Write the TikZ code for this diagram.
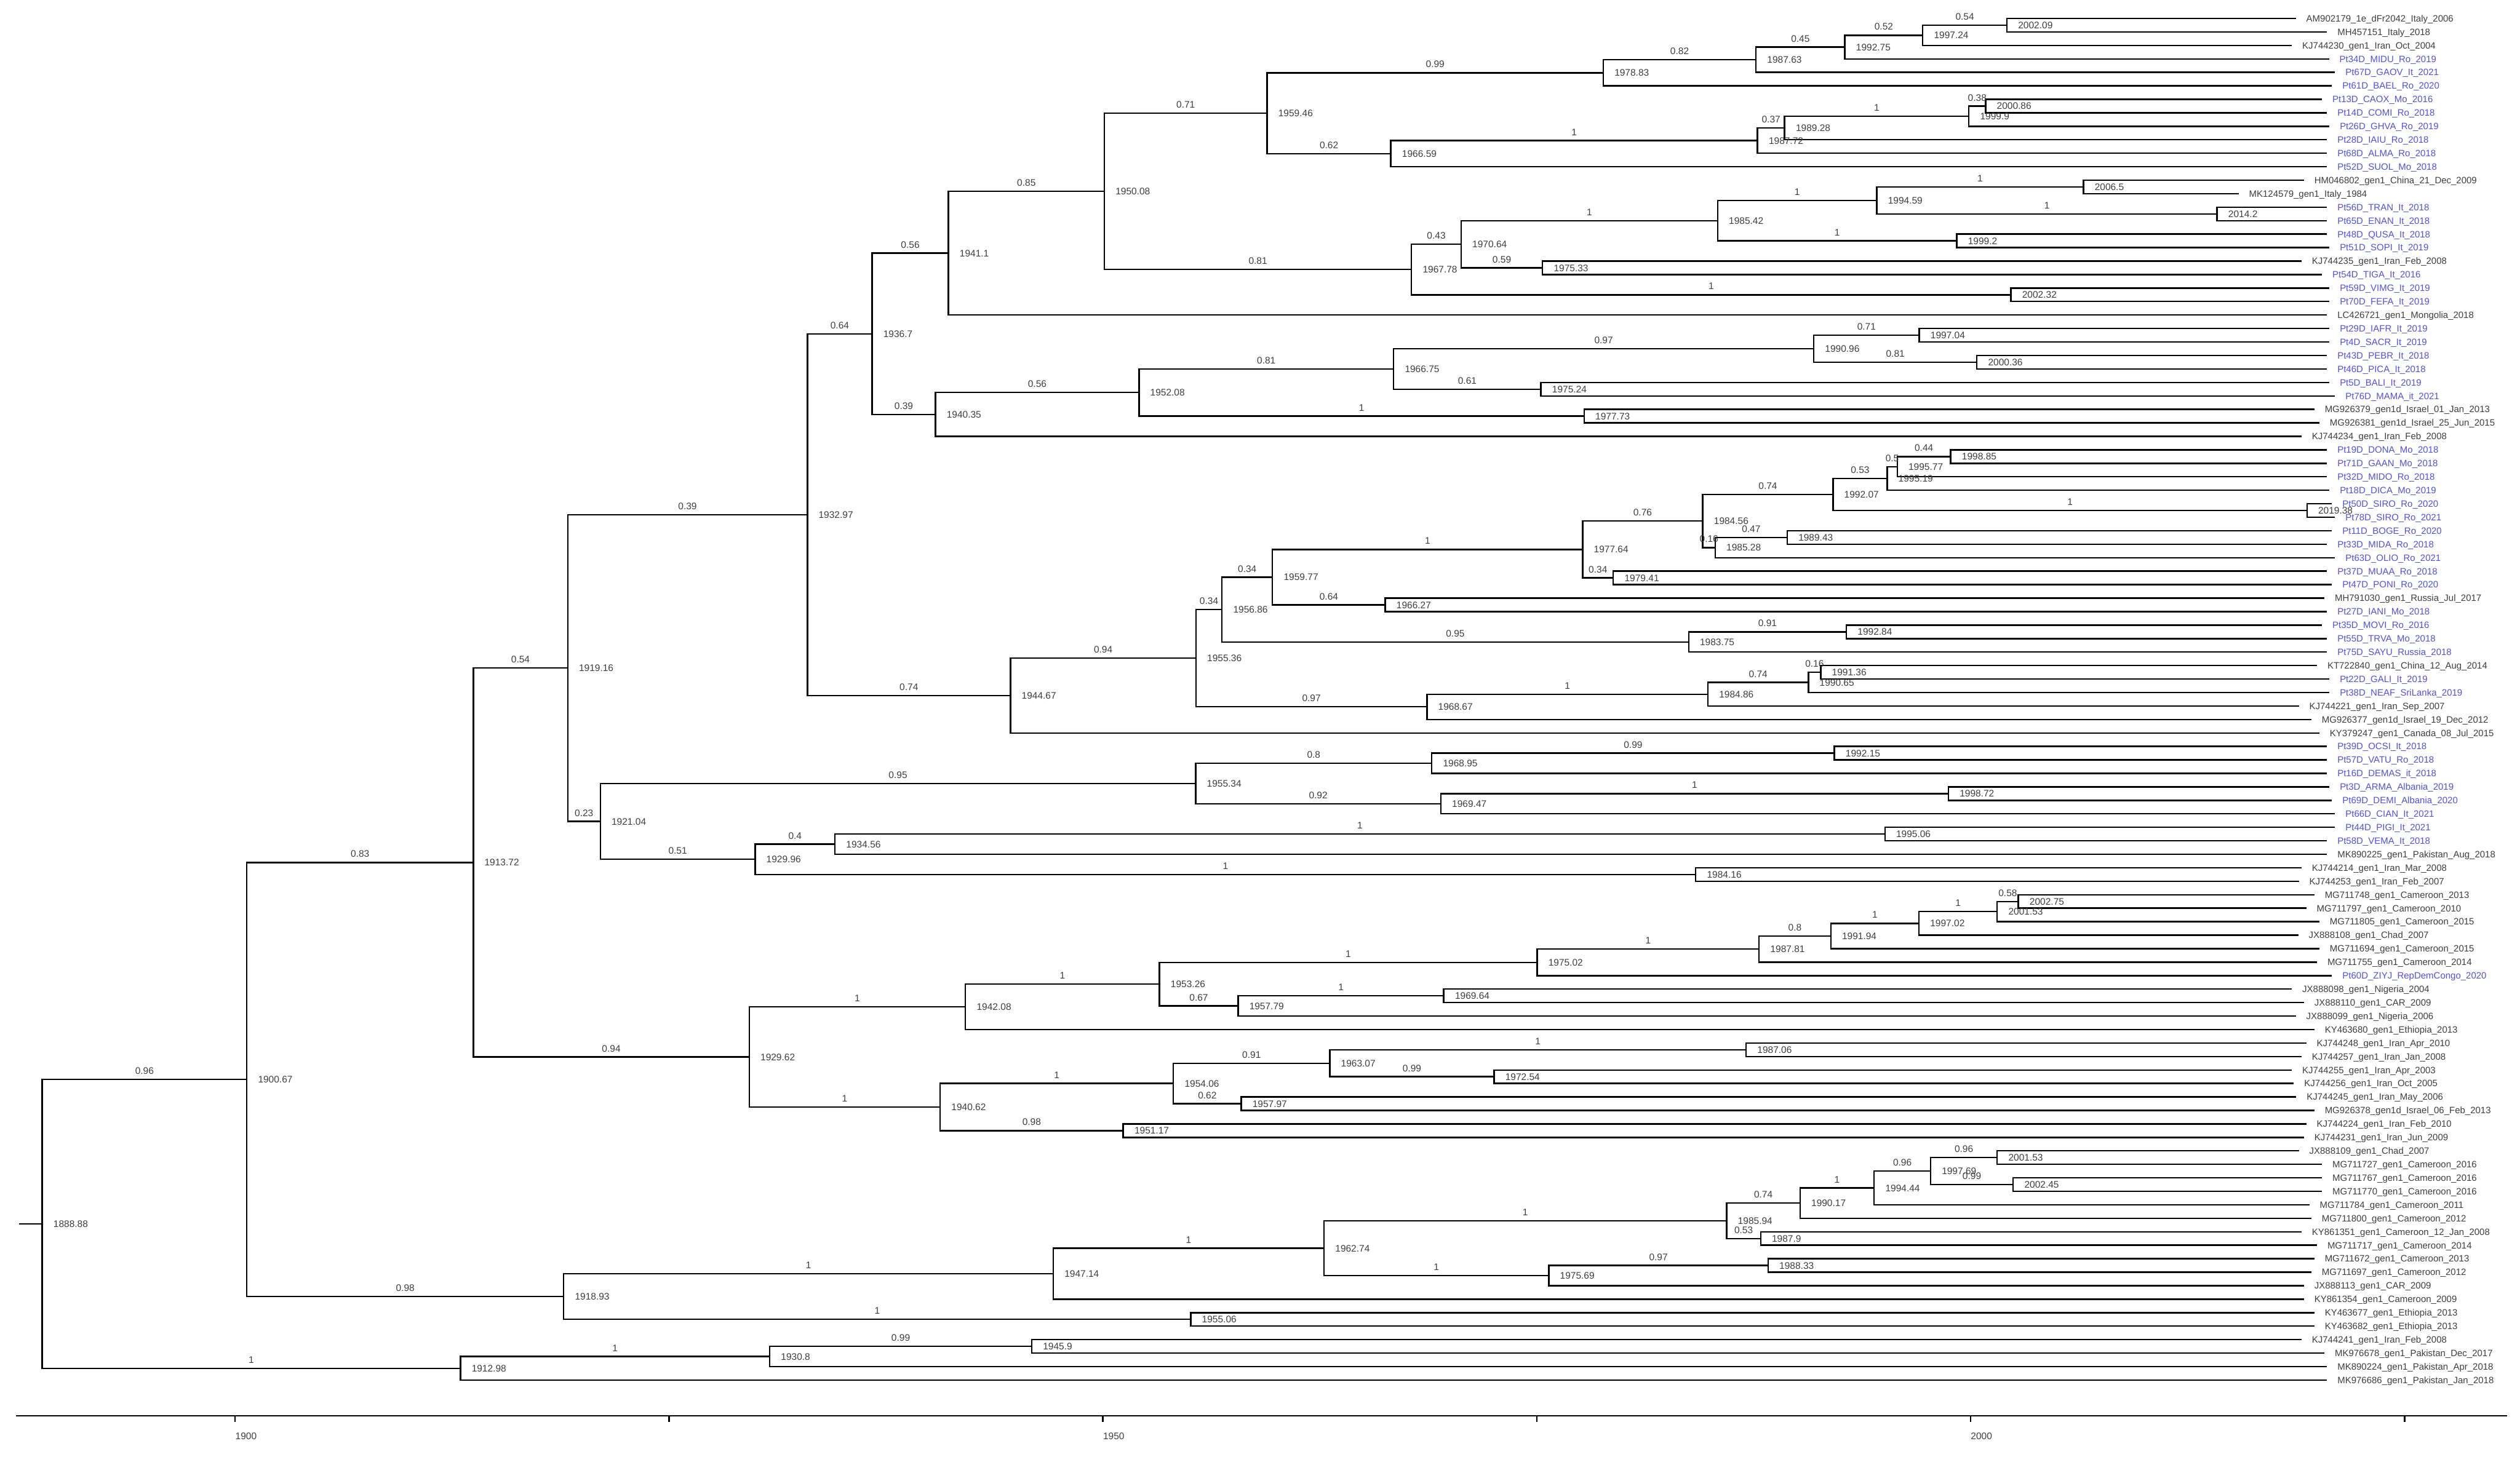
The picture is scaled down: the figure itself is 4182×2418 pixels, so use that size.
\documentclass[tikz,border=0pt]{standalone}
\usepackage{fontspec}
\setmainfont{Liberation Sans}
\usepackage{tikz}
\usetikzlibrary{calc}
\usepackage[dvipsnames]{xcolor}

\definecolor{ptblue}{RGB}{80,80,232}
\definecolor{labgray}{RGB}{62,62,62}

% x of a date, in figure pixels
\newcommand\yrx[1]{390.3+(#1-1900)*28.8}

% tip: [style]{name}{row}{offset}{label}
\newcommand\tip[5][]{%
  \coordinate (#2) at ({3803.3+(#4)/3},{30.6+(#3-1)*22.38});
  \node[leaf,#1] (#2lab) at ([xshift=0.167cm]#2) {#5};}

% clade: {name}{date}{child a}{support a}{child b}{support b}
\newcommand\clade[6]{%
  \path let \p1=($(#3)!0.5!(#5)$) in coordinate (#1) at ({(\yrx{#2})*0.01cm},\y1);
  \draw[twig] (#1) |- node[support] (#3sup) {#4} (#3);
  \draw[twig] (#1) |- node[support] (#5sup) {#6} (#5);
  \node[age] (#1lab) at (#1) {#2};}

\begin{document}
\begin{tikzpicture}[
    x=0.01cm, y=-0.01cm,   % one unit is one pixel, rows run downwards
    twig/.style={line width=0.7pt, black},
    leaf/.style={anchor=west, inner sep=0pt, text height=3.1pt, text depth=0pt,
                 text=labgray, font=\fontsize{4.35}{5}\selectfont},
    ptlabel/.style={text=ptblue},   % our own sequences
    age/.style={anchor=west, xshift=0.18cm, inner sep=0pt, text height=3.2pt,
                text depth=0pt, text=labgray, font=\fontsize{4.5}{5}\selectfont},
    support/.style={pos=0.75, above=2.1pt, inner sep=0pt, text height=3.2pt,
                    text depth=0pt, text=labgray, font=\fontsize{4.5}{5}\selectfont}
]
\useasboundingbox (0,0) rectangle (4182,2418);

% tips
\tip{t1}{1}{20}{AM902179\_1e\_dFr2042\_Italy\_2006}
\tip{t2}{2}{175}{MH457151\_Italy\_2018}
\tip{t3}{3}{0}{KJ744230\_gen1\_Iran\_Oct\_2004}
\tip[ptlabel]{t4}{4}{185}{Pt34D\_MIDU\_Ro\_2019}
\tip[ptlabel]{t5}{5}{215}{Pt67D\_GAOV\_It\_2021}
\tip[ptlabel]{t6}{6}{200}{Pt61D\_BAEL\_Ro\_2020}
\tip[ptlabel]{t7}{7}{150}{Pt13D\_CAOX\_Mo\_2016}
\tip[ptlabel]{t8}{8}{175}{Pt14D\_COMI\_Ro\_2018}
\tip[ptlabel]{t9}{9}{187}{Pt26D\_GHVA\_Ro\_2019}
\tip[ptlabel]{t10}{10}{175}{Pt28D\_IAIU\_Ro\_2018}
\tip[ptlabel]{t11}{11}{175}{Pt68D\_ALMA\_Ro\_2018}
\tip[ptlabel]{t12}{12}{175}{Pt52D\_SUOL\_Mo\_2018}
\tip{t13}{13}{60}{HM046802\_gen1\_China\_21\_Dec\_2009}
\tip{t14}{14}{-265}{MK124579\_gen1\_Italy\_1984}
\tip[ptlabel]{t15}{15}{175}{Pt56D\_TRAN\_It\_2018}
\tip[ptlabel]{t16}{16}{175}{Pt65D\_ENAN\_It\_2018}
\tip[ptlabel]{t17}{17}{175}{Pt48D\_QUSA\_It\_2018}
\tip[ptlabel]{t18}{18}{187}{Pt51D\_SOPI\_It\_2019}
\tip{t19}{19}{48}{KJ744235\_gen1\_Iran\_Feb\_2008}
\tip[ptlabel]{t20}{20}{150}{Pt54D\_TIGA\_It\_2016}
\tip[ptlabel]{t21}{21}{187}{Pt59D\_VIMG\_It\_2019}
\tip[ptlabel]{t22}{22}{187}{Pt70D\_FEFA\_It\_2019}
\tip{t23}{23}{175}{LC426721\_gen1\_Mongolia\_2018}
\tip[ptlabel]{t24}{24}{187}{Pt29D\_IAFR\_It\_2019}
\tip[ptlabel]{t25}{25}{187}{Pt4D\_SACR\_It\_2019}
\tip[ptlabel]{t26}{26}{175}{Pt43D\_PEBR\_It\_2018}
\tip[ptlabel]{t27}{27}{175}{Pt46D\_PICA\_It\_2018}
\tip[ptlabel]{t28}{28}{187}{Pt5D\_BALI\_It\_2019}
\tip[ptlabel]{t29}{29}{215}{Pt76D\_MAMA\_it\_2021}
\tip{t30}{30}{112}{MG926379\_gen1d\_Israel\_01\_Jan\_2013}
\tip{t31}{31}{137}{MG926381\_gen1d\_Israel\_25\_Jun\_2015}
\tip{t32}{32}{48}{KJ744234\_gen1\_Iran\_Feb\_2008}
\tip[ptlabel]{t33}{33}{175}{Pt19D\_DONA\_Mo\_2018}
\tip[ptlabel]{t34}{34}{175}{Pt71D\_GAAN\_Mo\_2018}
\tip[ptlabel]{t35}{35}{175}{Pt32D\_MIDO\_Ro\_2018}
\tip[ptlabel]{t36}{36}{187}{Pt18D\_DICA\_Mo\_2019}
\tip[ptlabel]{t37}{37}{200}{Pt50D\_SIRO\_Ro\_2020}
\tip[ptlabel]{t38}{38}{215}{Pt78D\_SIRO\_Ro\_2021}
\tip[ptlabel]{t39}{39}{200}{Pt11D\_BOGE\_Ro\_2020}
\tip[ptlabel]{t40}{40}{175}{Pt33D\_MIDA\_Ro\_2018}
\tip[ptlabel]{t41}{41}{215}{Pt63D\_OLIO\_Ro\_2021}
\tip[ptlabel]{t42}{42}{175}{Pt37D\_MUAA\_Ro\_2018}
\tip[ptlabel]{t43}{43}{200}{Pt47D\_PONI\_Ro\_2020}
\tip{t44}{44}{162}{MH791030\_gen1\_Russia\_Jul\_2017}
\tip[ptlabel]{t45}{45}{175}{Pt27D\_IANI\_Mo\_2018}
\tip[ptlabel]{t46}{46}{150}{Pt35D\_MOVI\_Ro\_2016}
\tip[ptlabel]{t47}{47}{175}{Pt55D\_TRVA\_Mo\_2018}
\tip[ptlabel]{t48}{48}{175}{Pt75D\_SAYU\_Russia\_2018}
\tip{t49}{49}{125}{KT722840\_gen1\_China\_12\_Aug\_2014}
\tip[ptlabel]{t50}{50}{187}{Pt22D\_GALI\_It\_2019}
\tip[ptlabel]{t51}{51}{187}{Pt38D\_NEAF\_SriLanka\_2019}
\tip{t52}{52}{35}{KJ744221\_gen1\_Iran\_Sep\_2007}
\tip{t53}{53}{97}{MG926377\_gen1d\_Israel\_19\_Dec\_2012}
\tip{t54}{54}{137}{KY379247\_gen1\_Canada\_08\_Jul\_2015}
\tip[ptlabel]{t55}{55}{175}{Pt39D\_OCSI\_It\_2018}
\tip[ptlabel]{t56}{56}{175}{Pt57D\_VATU\_Ro\_2018}
\tip[ptlabel]{t57}{57}{175}{Pt16D\_DEMAS\_it\_2018}
\tip[ptlabel]{t58}{58}{187}{Pt3D\_ARMA\_Albania\_2019}
\tip[ptlabel]{t59}{59}{200}{Pt69D\_DEMI\_Albania\_2020}
\tip[ptlabel]{t60}{60}{215}{Pt66D\_CIAN\_It\_2021}
\tip[ptlabel]{t61}{61}{215}{Pt44D\_PIGI\_It\_2021}
\tip[ptlabel]{t62}{62}{175}{Pt58D\_VEMA\_It\_2018}
\tip{t63}{63}{175}{MK890225\_gen1\_Pakistan\_Aug\_2018}
\tip{t64}{64}{48}{KJ744214\_gen1\_Iran\_Mar\_2008}
\tip{t65}{65}{35}{KJ744253\_gen1\_Iran\_Feb\_2007}
\tip{t66}{66}{112}{MG711748\_gen1\_Cameroon\_2013}
\tip{t67}{67}{72}{MG711797\_gen1\_Cameroon\_2010}
\tip{t68}{68}{137}{MG711805\_gen1\_Cameroon\_2015}
\tip{t69}{69}{32}{JX888108\_gen1\_Chad\_2007}
\tip{t70}{70}{137}{MG711694\_gen1\_Cameroon\_2015}
\tip{t71}{71}{125}{MG711755\_gen1\_Cameroon\_2014}
\tip[ptlabel]{t72}{72}{200}{Pt60D\_ZIYJ\_RepDemCongo\_2020}
\tip{t73}{73}{0}{JX888098\_gen1\_Nigeria\_2004}
\tip{t74}{74}{60}{JX888110\_gen1\_CAR\_2009}
\tip{t75}{75}{20}{JX888099\_gen1\_Nigeria\_2006}
\tip{t76}{76}{112}{KY463680\_gen1\_Ethiopia\_2013}
\tip{t77}{77}{72}{KJ744248\_gen1\_Iran\_Apr\_2010}
\tip{t78}{78}{48}{KJ744257\_gen1\_Iran\_Jan\_2008}
\tip{t79}{79}{0}{KJ744255\_gen1\_Iran\_Apr\_2003}
\tip{t80}{80}{10}{KJ744256\_gen1\_Iran\_Oct\_2005}
\tip{t81}{81}{22}{KJ744245\_gen1\_Iran\_May\_2006}
\tip{t82}{82}{112}{MG926378\_gen1d\_Israel\_06\_Feb\_2013}
\tip{t83}{83}{72}{KJ744224\_gen1\_Iran\_Feb\_2010}
\tip{t84}{84}{60}{KJ744231\_gen1\_Iran\_Jun\_2009}
\tip{t85}{85}{35}{JX888109\_gen1\_Chad\_2007}
\tip{t86}{86}{150}{MG711727\_gen1\_Cameroon\_2016}
\tip{t87}{87}{150}{MG711767\_gen1\_Cameroon\_2016}
\tip{t88}{88}{150}{MG711770\_gen1\_Cameroon\_2016}
\tip{t89}{89}{87}{MG711784\_gen1\_Cameroon\_2011}
\tip{t90}{90}{97}{MG711800\_gen1\_Cameroon\_2012}
\tip{t91}{91}{48}{KY861351\_gen1\_Cameroon\_12\_Jan\_2008}
\tip{t92}{92}{125}{MG711717\_gen1\_Cameroon\_2014}
\tip{t93}{93}{112}{MG711672\_gen1\_Cameroon\_2013}
\tip{t94}{94}{97}{MG711697\_gen1\_Cameroon\_2012}
\tip{t95}{95}{60}{JX888113\_gen1\_CAR\_2009}
\tip{t96}{96}{60}{KY861354\_gen1\_Cameroon\_2009}
\tip{t97}{97}{112}{KY463677\_gen1\_Ethiopia\_2013}
\tip{t98}{98}{112}{KY463682\_gen1\_Ethiopia\_2013}
\tip{t99}{99}{48}{KJ744241\_gen1\_Iran\_Feb\_2008}
\tip{t100}{100}{162}{MK976678\_gen1\_Pakistan\_Dec\_2017}
\tip{t101}{101}{175}{MK890224\_gen1\_Pakistan\_Apr\_2018}
\tip{t102}{102}{175}{MK976686\_gen1\_Pakistan\_Jan\_2018}

% upper clade
\clade{d200209}{2002.09}{t1}{}{t2}{}
\clade{d199724}{1997.24}{d200209}{0.54}{t3}{}
\clade{d199275}{1992.75}{d199724}{0.52}{t4}{}
\clade{d198763}{1987.63}{d199275}{0.45}{t5}{}
\clade{d197883}{1978.83}{d198763}{0.82}{t6}{}
\clade{d200086}{2000.86}{t7}{}{t8}{}
\clade{d19999}{1999.9}{d200086}{0.38}{t9}{}
\clade{d198928}{1989.28}{d19999}{1}{t10}{}
\clade{d198772}{1987.72}{d198928}{0.37}{t11}{}
\clade{d196659}{1966.59}{d198772}{1}{t12}{}
\clade{d195946}{1959.46}{d197883}{0.99}{d196659}{0.62}
\clade{d20065}{2006.5}{t13}{}{t14}{}
\clade{d20142}{2014.2}{t15}{}{t16}{}
\clade{d199459}{1994.59}{d20065}{1}{d20142}{1}
\clade{d19992}{1999.2}{t17}{}{t18}{}
\clade{d198542}{1985.42}{d199459}{1}{d19992}{1}
\clade{d197533}{1975.33}{t19}{}{t20}{}
\clade{d197064}{1970.64}{d198542}{1}{d197533}{0.59}
\clade{d200232}{2002.32}{t21}{}{t22}{}
\clade{d196778}{1967.78}{d197064}{0.43}{d200232}{1}
\clade{d195008}{1950.08}{d195946}{0.71}{d196778}{0.81}
\clade{d19411}{1941.1}{d195008}{0.85}{t23}{}
\clade{d199704}{1997.04}{t24}{}{t25}{}
\clade{d200036}{2000.36}{t26}{}{t27}{}
\clade{d199096}{1990.96}{d199704}{0.71}{d200036}{0.81}
\clade{d197524}{1975.24}{t28}{}{t29}{}
\clade{d196675}{1966.75}{d199096}{0.97}{d197524}{0.61}
\clade{d197773}{1977.73}{t30}{}{t31}{}
\clade{d195208}{1952.08}{d196675}{0.81}{d197773}{1}
\clade{d194035}{1940.35}{d195208}{0.56}{t32}{}
\clade{d19367}{1936.7}{d19411}{0.56}{d194035}{0.39}
\clade{d199885}{1998.85}{t33}{}{t34}{}
\clade{d199577}{1995.77}{d199885}{0.44}{t35}{}
\clade{d199519}{1995.19}{d199577}{0.5}{t36}{}
\clade{d201938}{2019.38}{t37}{}{t38}{}
\clade{d199207}{1992.07}{d199519}{0.53}{d201938}{1}
\clade{d198943}{1989.43}{t39}{}{t40}{}
\clade{d198528}{1985.28}{d198943}{0.47}{t41}{}
\clade{d198456}{1984.56}{d199207}{0.74}{d198528}{0.16}
\clade{d197941}{1979.41}{t42}{}{t43}{}
\clade{d197764}{1977.64}{d198456}{0.76}{d197941}{0.34}
\clade{d196627}{1966.27}{t44}{}{t45}{}
\clade{d195977}{1959.77}{d197764}{1}{d196627}{0.64}
\clade{d199284}{1992.84}{t46}{}{t47}{}
\clade{d198375}{1983.75}{d199284}{0.91}{t48}{}
\clade{d195686}{1956.86}{d195977}{0.34}{d198375}{0.95}
\clade{d199136}{1991.36}{t49}{}{t50}{}
\clade{d199065}{1990.65}{d199136}{0.16}{t51}{}
\clade{d198486}{1984.86}{d199065}{0.74}{t52}{}
\clade{d196867}{1968.67}{d198486}{1}{t53}{}
\clade{d195536}{1955.36}{d195686}{0.34}{d196867}{0.97}
\clade{d194467}{1944.67}{d195536}{0.94}{t54}{}
\clade{d193297}{1932.97}{d19367}{0.64}{d194467}{0.74}
\clade{d199215}{1992.15}{t55}{}{t56}{}
\clade{d196895}{1968.95}{d199215}{0.99}{t57}{}
\clade{d199872}{1998.72}{t58}{}{t59}{}
\clade{d196947}{1969.47}{d199872}{1}{t60}{}
\clade{d195534}{1955.34}{d196895}{0.8}{d196947}{0.92}
\clade{d199506}{1995.06}{t61}{}{t62}{}
\clade{d193456}{1934.56}{d199506}{1}{t63}{}
\clade{d198416}{1984.16}{t64}{}{t65}{}
\clade{d192996}{1929.96}{d193456}{0.4}{d198416}{1}
\clade{d192104}{1921.04}{d195534}{0.95}{d192996}{0.51}
\clade{d191916}{1919.16}{d193297}{0.39}{d192104}{0.23}

% african / iranian clade
\clade{d200275}{2002.75}{t66}{}{t67}{}
\clade{d200153}{2001.53}{d200275}{0.58}{t68}{}
\clade{d199702}{1997.02}{d200153}{1}{t69}{}
\clade{d199194}{1991.94}{d199702}{1}{t70}{}
\clade{d198781}{1987.81}{d199194}{0.8}{t71}{}
\clade{d197502}{1975.02}{d198781}{1}{t72}{}
\clade{d196964}{1969.64}{t73}{}{t74}{}
\clade{d195779}{1957.79}{d196964}{1}{t75}{}
\clade{d195326}{1953.26}{d197502}{1}{d195779}{0.67}
\clade{d194208}{1942.08}{d195326}{1}{t76}{}
\clade{d198706}{1987.06}{t77}{}{t78}{}
\clade{d197254}{1972.54}{t79}{}{t80}{}
\clade{d196307}{1963.07}{d198706}{1}{d197254}{0.99}
\clade{d195797}{1957.97}{t81}{}{t82}{}
\clade{d195406}{1954.06}{d196307}{0.91}{d195797}{0.62}
\clade{d195117}{1951.17}{t83}{}{t84}{}
\clade{d194062}{1940.62}{d195406}{1}{d195117}{0.98}
\clade{d192962}{1929.62}{d194208}{1}{d194062}{1}
\clade{d191372}{1913.72}{d191916}{0.54}{d192962}{0.94}

% cameroon clade
\clade{d200153b}{2001.53}{t85}{}{t86}{}
\clade{d200245}{2002.45}{t87}{}{t88}{}
\clade{d199769}{1997.69}{d200153b}{0.96}{d200245}{0.99}
\clade{d199444}{1994.44}{d199769}{0.96}{t89}{}
\clade{d199017}{1990.17}{d199444}{1}{t90}{}
\clade{d19879}{1987.9}{t91}{}{t92}{}
\clade{d198594}{1985.94}{d199017}{0.74}{d19879}{0.53}
\clade{d198833}{1988.33}{t93}{}{t94}{}
\clade{d197569}{1975.69}{d198833}{0.97}{t95}{}
\clade{d196274}{1962.74}{d198594}{1}{d197569}{1}
\clade{d194714}{1947.14}{d196274}{1}{t96}{}
\clade{d195506}{1955.06}{t97}{}{t98}{}
\clade{d191893}{1918.93}{d194714}{1}{d195506}{1}
\clade{d190067}{1900.67}{d191372}{0.83}{d191893}{0.98}

% pakistan clade and root
\clade{d19459}{1945.9}{t99}{}{t100}{}
\clade{d19308}{1930.8}{d19459}{0.99}{t101}{}
\clade{d191298}{1912.98}{d19308}{1}{t102}{}
\clade{d188888}{1888.88}{d190067}{0.96}{d191298}{1}
\draw[twig] (d188888) -- ++(-38.4,0) coordinate (stub);

% time axis
\coordinate (axl) at (26.7,2350);
\coordinate (axr) at (4160,2350);
\draw[twig] (axl) -- (axr);
\foreach \yr in {1900,1925,...,2025}
  \draw[twig] ({\yrx{\yr}},2350) coordinate (tk\yr) -- ++(0,10);
\foreach \yr in {1900,1950,2000}
  \node[age, anchor=center, xshift=0pt] (ax\yr) at ({\yrx{\yr}},2384) {\yr};
\end{tikzpicture}
\end{document}
